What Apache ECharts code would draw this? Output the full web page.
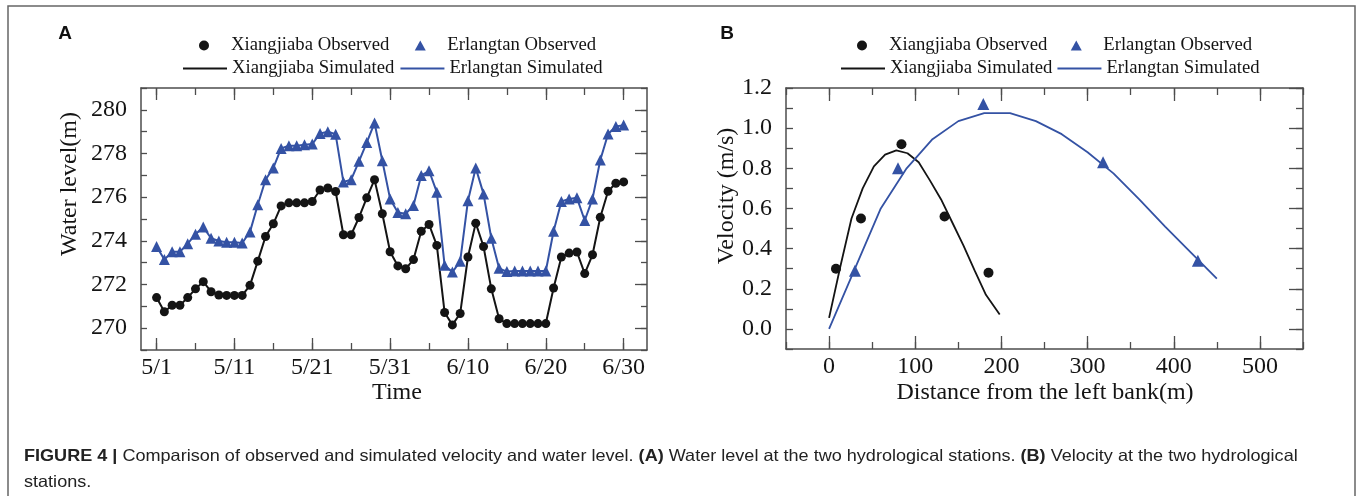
<!DOCTYPE html>
<html><head><meta charset="utf-8">
<script src="https://cdn.jsdelivr.net/npm/echarts@6/dist/echarts.min.js"></script>
<style>html,body{margin:0;padding:0;background:#fff;}#c{width:1357px;height:496px;}</style>
</head><body><div id="c"></div>
<script>
// ---------- Panel A data ----------
const dayLabels = ['5/1','5/11','5/21','5/31','6/10','6/20','6/30'];
const dayLabelPos = [0,10,20,30,40,50,60];
const dayTickPos = [0,5,10,15,20,25,30,35,40,45,50,55,60];
const levelLabelPos = [270,272,274,276,278,280];
const xjbLevel = [271.4,270.75,271.05,271.05,271.4,271.8,272.13,271.67,271.52,271.5,
  271.5,271.5,271.96,273.07,274.2,274.78,275.6,275.74,275.74,275.74,
  275.8,276.33,276.42,276.26,274.28,274.28,275.07,275.97,276.8,275.24,
  273.5,272.85,272.72,273.14,274.44,274.75,273.79,270.72,270.15,270.67,
  273.26,274.81,273.74,271.8,270.43,270.21,270.21,270.21,270.21,270.21,
  270.21,271.84,273.26,273.44,273.49,272.5,273.36,275.08,276.27,276.64,276.7];
const erlLevel = [273.74,273.14,273.5,273.5,273.87,274.3,274.63,274.12,273.99,273.94,
  273.94,273.9,274.41,275.65,276.8,277.34,278.23,278.36,278.36,278.4,
  278.43,278.92,279.0,278.88,276.7,276.8,277.64,278.5,279.4,277.67,
  275.92,275.3,275.24,275.62,276.99,277.21,276.23,272.88,272.57,273.06,
  275.84,277.34,276.15,274.12,272.74,272.59,272.62,272.62,272.62,272.62,
  272.62,274.44,275.8,275.92,275.97,274.93,275.92,277.7,278.89,279.24,279.3];
// ---------- Panel B data ----------
const distLabelPos = [0,100,200,300,400,500];
const velLabelPos = [0,0.2,0.4,0.6,0.8,1.0,1.2];
const xjbObsX = [8,37,84,134,185];
const xjbObsV = [0.30,0.55,0.92,0.56,0.28];
const erlObsX = [30,80,179,318,428];
const erlObsV = [0.29,0.80,1.12,0.83,0.34];
const xjbSimX = [0,13,26,39,52,65,78,91,104,117,130,143,156,169,182,198];
const xjbSimV = [0.055,0.31,0.55,0.70,0.81,0.868,0.889,0.875,0.83,0.74,0.645,0.53,0.415,0.29,0.17,0.072];
const erlSimX = [0,30,60,90,120,150,180,210,240,270,300,330,360,390,420,450];
const erlSimV = [0.0,0.30,0.60,0.80,0.945,1.035,1.075,1.075,1.035,0.97,0.88,0.775,0.645,0.51,0.38,0.25];

const BLACK = '#141414', BLUE = '#3452a4', AX = '#4d4d4d';
const SERIF = 'Liberation Serif';
const pairs = (xs, ys) => xs.map((x, i) => [x, ys[i]]);
const dayIdx = xjbLevel.map((_, i) => i);

const axLine = {show: true, onZero: false, lineStyle: {color: AX, width: 1.5}};
const noLine = {show: false, onZero: false};
const tickStyle = {color: AX, width: 1.3};
const lbl = {fontFamily: SERIF, fontSize: 24, color: BLACK};
const TXT = {align: 'center', verticalAlign: 'middle', textAlign: 'center', textVerticalAlign: 'middle'};
// legend icons drawn inside a full 44x10 box so they stay centred and undistorted
const ICON_DOT = 'path://M0,0M44,10M27,5A5,5,0,1,1,17,5A5,5,0,1,1,27,5Z';
const ICON_TRI = 'path://M0,0M44,10M16.5,10L22,0L27.5,10Z';

function ax(grid, pos, rng, tick, label, line) {
  return Object.assign({gridIndex: grid, type: 'value', position: pos, splitLine: {show: false},
    axisLine: line || axLine, axisTick: Object.assign({inside: true, lineStyle: tickStyle}, tick),
    axisLabel: label || {show: false}}, rng);
}
const rA = {min: -2, max: 63};
const rB = {min: -50, max: 550, interval: 50};
const rLv = {min: 269, max: 281, interval: 1};
const rV = {min: -0.1, max: 1.2, interval: 0.1};

const option = {
  animation: false,
  grid: [
    {left: 141, top: 88, width: 506, height: 262},
    {left: 786, top: 88, width: 517, height: 261}
  ],
  xAxis: [
    // panel A
    ax(0, 'bottom', rA, {length: 7, customValues: dayTickPos},
      Object.assign({customValues: dayLabelPos, margin: 6,
        formatter: v => dayLabels[dayLabelPos.indexOf(v)] || ''}, lbl)),
    ax(0, 'top', rA, {length: 7, customValues: dayTickPos}),
    ax(0, 'bottom', rA, {length: 12, customValues: dayLabelPos}, null, noLine),
    ax(0, 'top', rA, {length: 12, customValues: dayLabelPos}, null, noLine),
    // panel B
    ax(1, 'bottom', rB, {length: 7},
      Object.assign({margin: 6, customValues: distLabelPos, formatter: v => String(v)}, lbl)),
    ax(1, 'top', rB, {length: 7}),
    ax(1, 'bottom', rB, {length: 13, customValues: distLabelPos}, null, noLine),
    ax(1, 'top', rB, {length: 13, customValues: distLabelPos}, null, noLine)
  ],
  yAxis: [
    // panel A
    ax(0, 'left', rLv, {length: 6},
      Object.assign({margin: 14, customValues: levelLabelPos, formatter: v => String(v)}, lbl)),
    ax(0, 'right', rLv, {length: 6}),
    ax(0, 'right', rLv, {length: 12, customValues: levelLabelPos}, null, noLine),
    // panel B
    ax(1, 'left', rV, {length: 7},
      Object.assign({margin: 14, customValues: velLabelPos, formatter: v => Number(v).toFixed(1)}, lbl)),
    ax(1, 'right', rV, {length: 7}),
    ax(1, 'right', rV, {length: 14, customValues: velLabelPos}, null, noLine)
  ],
  legend: [
    {data: [{name: 'Xiangjiaba Observed', icon: ICON_DOT},
            {name: 'Erlangtan Observed', icon: ICON_TRI}],
      left: 182, top: 36, itemGap: 9},
    {data: [{name: 'Xiangjiaba Simulated', itemStyle: {opacity: 0}},
            {name: 'Erlangtan Simulated', itemStyle: {opacity: 0}}],
      left: 182, top: 59, itemGap: 5},
    {data: [{name: 'Xiangjiaba Observed', icon: ICON_DOT},
            {name: 'Erlangtan Observed', icon: ICON_TRI}],
      left: 840, top: 36, itemGap: 7},
    {data: [{name: 'Xiangjiaba Simulated', itemStyle: {opacity: 0}},
            {name: 'Erlangtan Simulated', itemStyle: {opacity: 0}}],
      left: 840, top: 59, itemGap: 4}
  ].map(l => Object.assign(l, {padding: 0, itemWidth: 44, itemHeight: 10, symbolKeepAspect: true,
    selectedMode: false, textStyle: {fontFamily: SERIF, fontSize: 18.7, color: BLACK}})),
  series: [
    {name: 'Xiangjiaba Simulated', type: 'line', xAxisIndex: 0, yAxisIndex: 0, symbol: 'none',
      data: pairs(dayIdx, xjbLevel), lineStyle: {color: BLACK, width: 2}, itemStyle: {color: BLACK}, z: 2},
    {name: 'Erlangtan Simulated', type: 'line', xAxisIndex: 0, yAxisIndex: 0, symbol: 'none',
      data: pairs(dayIdx, erlLevel), lineStyle: {color: BLUE, width: 2}, itemStyle: {color: BLUE}, z: 2},
    {name: 'Xiangjiaba Observed', type: 'scatter', xAxisIndex: 0, yAxisIndex: 0, symbol: 'circle',
      symbolSize: 9, data: pairs(dayIdx, xjbLevel), itemStyle: {color: BLACK, opacity: 1}, z: 3},
    {name: 'Erlangtan Observed', type: 'scatter', xAxisIndex: 0, yAxisIndex: 0, symbol: 'triangle',
      symbolSize: 11, data: pairs(dayIdx, erlLevel), itemStyle: {color: BLUE, opacity: 1}, z: 3},
    {name: 'Xiangjiaba Simulated', type: 'line', xAxisIndex: 4, yAxisIndex: 3, symbol: 'none',
      data: pairs(xjbSimX, xjbSimV), lineStyle: {color: BLACK, width: 1.8}, itemStyle: {color: BLACK}, z: 2},
    {name: 'Erlangtan Simulated', type: 'line', xAxisIndex: 4, yAxisIndex: 3, symbol: 'none',
      data: pairs(erlSimX, erlSimV), lineStyle: {color: BLUE, width: 1.8}, itemStyle: {color: BLUE}, z: 2},
    {name: 'Xiangjiaba Observed', type: 'scatter', xAxisIndex: 4, yAxisIndex: 3, symbol: 'circle',
      symbolSize: 10, data: pairs(xjbObsX, xjbObsV), itemStyle: {color: BLACK, opacity: 1}, z: 3},
    {name: 'Erlangtan Observed', type: 'scatter', xAxisIndex: 4, yAxisIndex: 3, symbol: 'triangle',
      symbolSize: 12, data: pairs(erlObsX, erlObsV), itemStyle: {color: BLUE, opacity: 1}, z: 3}
  ],
  graphic: [
    {type: 'rect', silent: true, shape: {x: 8, y: 6, width: 1347, height: 530},
      style: {fill: 'none', stroke: '#666', lineWidth: 1.5}},
    {type: 'text', x: 65, y: 34, style: Object.assign({text: 'A', font: 'bold 19px "Liberation Sans"', fill: '#111'}, TXT)},
    {type: 'text', x: 727, y: 34, style: Object.assign({text: 'B', font: 'bold 19px "Liberation Sans"', fill: '#111'}, TXT)},
    {type: 'text', x: 70, y: 184, rotation: Math.PI / 2,
      style: Object.assign({text: 'Water level(m)', font: '24px "Liberation Serif"', fill: BLACK}, TXT)},
    {type: 'text', x: 397, y: 393,
      style: Object.assign({text: 'Time', font: '24px "Liberation Serif"', fill: BLACK}, TXT)},
    {type: 'text', x: 727, y: 196, rotation: Math.PI / 2,
      style: Object.assign({text: 'Velocity (m/s)', font: '24px "Liberation Serif"', fill: BLACK}, TXT)},
    {type: 'text', x: 1045, y: 393,
      style: Object.assign({text: 'Distance from the left bank(m)', font: '24px "Liberation Serif"', fill: BLACK}, TXT)},
    {type: 'text', x: 24, y: 456, scaleX: 1.095, style: {
      text: '{b|FIGURE 4 |} Comparison of observed and simulated velocity and water level. {b|(A)} Water level at the two hydrological stations. {b|(B)} Velocity at the two hydrological',
      font: '16.5px "Liberation Sans"', fill: '#222', verticalAlign: 'middle', textVerticalAlign: 'middle',
      rich: {b: {fontWeight: 'bold', fontSize: 16.5, fontFamily: 'Liberation Sans', fill: '#222', color: '#222'}}}},
    {type: 'text', x: 24, y: 482, scaleX: 1.095, style: {text: 'stations.', font: '16.5px "Liberation Sans"', fill: '#222',
      verticalAlign: 'middle', textVerticalAlign: 'middle'}}
  ]
};
const chart = echarts.init(document.getElementById('c'), null, {renderer: 'canvas'});
chart.setOption(option);
</script></body></html>
